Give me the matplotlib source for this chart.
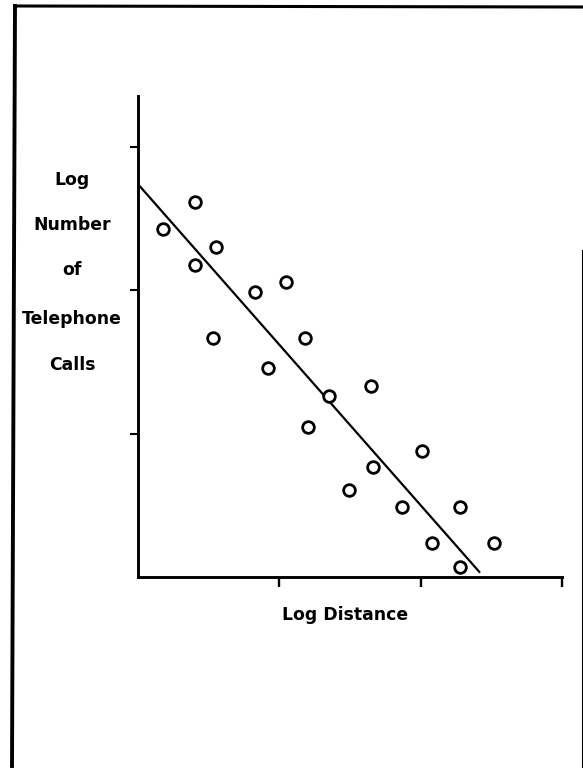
import matplotlib
matplotlib.use("Agg")
import matplotlib.pyplot as plt
from matplotlib.lines import Line2D

# Observations: log distance vs. log number of telephone calls
log_distance = [0.18, 0.40, 0.40, 0.55, 0.53, 0.83, 1.05, 0.92, 1.18, 1.20,
                1.35, 1.65, 1.49, 1.66, 1.87, 2.01, 2.08, 2.28, 2.28, 2.52]
log_calls = [2.43, 2.62, 2.18, 2.30, 1.67, 1.99, 2.06, 1.46, 1.67, 1.05,
             1.26, 1.33, 0.61, 0.77, 0.49, 0.88, 0.24, 0.49, 0.07, 0.24]

# Fitted regression line (end points)
fit_x = [0.01, 2.42]
fit_y = [2.73, 0.03]

x_ticks = [1, 2, 3]
y_ticks = [1, 2, 3]

y_label_lines = ["Log", "Number", "of", "Telephone", "Calls"]
x_label = "Log Distance"

W, H = 583, 768
fig = plt.figure(figsize=(W / 100, H / 100), dpi=100)
fig.patch.set_facecolor("white")

ax = fig.add_axes([138 / W, 1 - 577 / H, 424 / W, 481 / H])
ax.set_xlim(0, 3)
ax.set_ylim(0, 481 / 143.3)

ax.plot(fit_x, fit_y, color="black", lw=1.6, solid_capstyle="butt", zorder=2)
ax.plot(log_distance, log_calls, linestyle="none", marker="o", ms=8.4,
        mfc="white", mec="black", mew=2.0, zorder=3, clip_on=False)

for side in ("top", "right"):
    ax.spines[side].set_visible(False)
for side in ("left", "bottom"):
    ax.spines[side].set_linewidth(2.1)
    ax.spines[side].set_color("black")

ax.set_xticks(x_ticks)
ax.set_yticks(y_ticks)
ax.set_xticklabels([])
ax.set_yticklabels([])
ax.tick_params(axis="x", direction="out", length=7.5, width=1.7, color="black")
ax.tick_params(axis="y", direction="out", length=6, width=1.5, color="black")

label_font = dict(family="DejaVu Sans", weight="bold", size=12.4, color="black")
label_ys = [180, 225, 270, 319, 365]
for text, py in zip(y_label_lines, label_ys):
    fig.text(72 / W, 1 - py / H, text, ha="center", va="center", **label_font)

fig.text(345 / W, 1 - 615 / H, x_label, ha="center", va="center", **label_font)

# Page frame
fig.add_artist(Line2D([15 / W, 12 / W], [1 - 6 / H, 1 - 766 / H],
                      transform=fig.transFigure, color="black", lw=2.8))
fig.add_artist(Line2D([15 / W, 583 / W], [1 - 6 / H, 1 - 7 / H],
                      transform=fig.transFigure, color="black", lw=2.2))
fig.add_artist(Line2D([581.5 / W, 581.5 / W], [1 - 250 / H, 1 - 768 / H],
                      transform=fig.transFigure, color="black", lw=0.8))

fig.savefig("out.png", dpi=100, facecolor="white")
